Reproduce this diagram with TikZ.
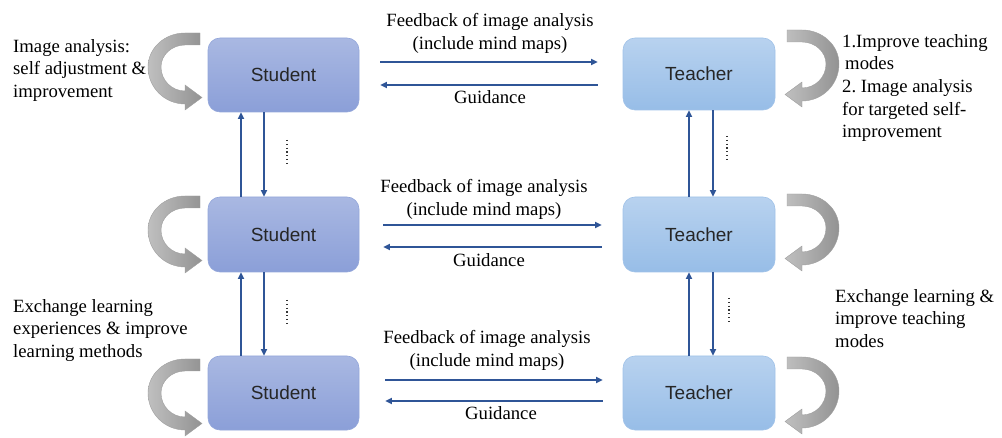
\documentclass[tikz,border=0pt]{standalone}
\usepackage{fontspec}
\setmainfont{Liberation Serif}
\newfontfamily\boxfont{Liberation Sans}
\usetikzlibrary{arrows.meta}
\definecolor{ablue}{HTML}{2F5597}
\definecolor{stop}{HTML}{A9B8E2}
\definecolor{sbot}{HTML}{8B9FD8}
\definecolor{sbord}{HTML}{93A6DA}
\definecolor{ttop}{HTML}{B8D2EF}
\definecolor{tbot}{HTML}{97BDE7}
\definecolor{tbord}{HTML}{A0C2E8}
\definecolor{boxtext}{HTML}{262626}
\begin{document}
\begin{tikzpicture}[x=1pt,y=-1pt,
  sbox/.style={rounded corners=12pt, minimum width=151pt, minimum height=74pt,
    top color=stop, bottom color=sbot, draw=sbord, line width=0.6pt,
    font=\boxfont\fontsize{19}{21}\selectfont, text=boxtext, inner sep=0pt},
  tbox/.style={sbox, top color=ttop, bottom color=tbot, draw=tbord, minimum width=152pt},
  conn/.style={draw=ablue, line width=1.9pt, -{Triangle[length=6.5pt,width=6pt]}},
  lbl/.style={font=\fontsize{18.7}{23}\selectfont, inner sep=0pt, align=center},
  side/.style={font=\fontsize{18.7}{22.6}\selectfont, inner sep=0pt, align=left, anchor=north west},
  dots/.style={draw=black!80, line width=1.3pt, dash pattern=on 1.2pt off 2.6pt},
  ring/.style={left color=gray!50, right color=gray!85, draw=gray!75, line width=0.4pt},
  carrow/.pic={
    \path[ring] (15,-34) -- (0,-34)
      arc[start angle=270, end angle=180, x radius=37, y radius=34]
      arc[start angle=180, end angle=90, x radius=37, y radius=37]
      -- (0,43) -- (17,30.5) -- (0,18) -- (0,24)
      arc[start angle=90, end angle=180, x radius=24, y radius=24]
      arc[start angle=180, end angle=270, x radius=24, y radius=22]
      -- (15,-22) -- cycle;
  }
]
\useasboundingbox (0,0) rectangle (1002,438);

% boxes
\node[sbox, minimum height=74pt] (s1) at (283.5,75) {Student};
\node[tbox, minimum height=72pt] (t1) at (699,74) {Teacher};
\node[sbox, minimum height=75pt] (s2) at (283.5,234.5) {Student};
\node[tbox, minimum height=75pt] (t2) at (699,234.5) {Teacher};
\node[sbox, minimum height=74pt] (s3) at (283.5,393) {Student};
\node[tbox, minimum height=74pt] (t3) at (699,393) {Teacher};

% horizontal arrows
\draw[conn] ([shift={(21,-13)}]s1.east) -- ([shift={(-25,-12)}]t1.west);
\draw[conn] ([shift={(-25,11)}]t1.west) -- ([shift={(21,10)}]s1.east);
\draw[conn] ([shift={(24,-9.5)}]s2.east) -- ([shift={(-21,-9.5)}]t2.west);
\draw[conn] ([shift={(-21,12.5)}]t2.west) -- ([shift={(24,12.5)}]s2.east);
\draw[conn] ([shift={(26,-13)}]s3.east) -- ([shift={(-20,-13)}]t3.west);
\draw[conn] ([shift={(-20,8)}]t3.west) -- ([shift={(26,8)}]s3.east);

% vertical arrows
\draw[conn] ([xshift=-42.5pt]s2.north) -- ([xshift=-42.5pt]s1.south);
\draw[conn] ([xshift=-19.5pt]s1.south) -- ([xshift=-19.5pt]s2.north);
\draw[conn] ([xshift=-42.5pt]s3.north) -- ([xshift=-42.5pt]s2.south);
\draw[conn] ([xshift=-19.5pt]s2.south) -- ([xshift=-19.5pt]s3.north);
\draw[conn] ([xshift=-10pt]t2.north) -- ([xshift=-10pt]t1.south);
\draw[conn] ([xshift=14pt]t1.south) -- ([xshift=14pt]t2.north);
\draw[conn] ([xshift=-10pt]t3.north) -- ([xshift=-10pt]t2.south);
\draw[conn] ([xshift=14pt]t2.south) -- ([xshift=14pt]t3.north);

% dotted marks
\draw[dots] (287,140) -- (287,166);
\draw[dots] (287,300) -- (287,326);
\draw[dots] (727,136) -- (727,162);
\draw[dots] (729,298) -- (729,324);

% center labels
\node[lbl, anchor=north] (f1) at (490,13.2) {Feedback of image analysis\\(include mind maps)};
\node[lbl, anchor=base] (g1) at (490,104) {Guidance};
\node[lbl, anchor=north] (f2) at (484,179.2) {Feedback of image analysis\\(include mind maps)};
\node[lbl, anchor=base] (g2) at (489,267) {Guidance};
\node[lbl, anchor=north] (f3) at (487,330.2) {Feedback of image analysis\\(include mind maps)};
\node[lbl, anchor=base] (g3) at (501,420) {Guidance};

% side labels
\node[side] (l1) at (13,39.2) {Image analysis:\\self adjustment \&\\improvement};
\node[side] (r1) at (842,34.2) {1.Improve teaching\\\hspace{3pt}modes\\2.\ Image analysis\\for targeted self-\\improvement};
\node[side] (r2) at (835,289.2) {Exchange learning \&\\improve teaching\\modes};
\node[side] (l3) at (13,299.2) {Exchange learning\\experiences \& improve\\learning methods};

% curved self arrows
\pic at (185,67) {carrow};
\pic at (185,230) {carrow};
\pic at (185,393) {carrow};
\pic[xscale=-1] at (802,64) {carrow};
\pic[xscale=-1] at (802,228) {carrow};
\pic[xscale=-1] at (802,391) {carrow};
\end{tikzpicture}
\end{document}
